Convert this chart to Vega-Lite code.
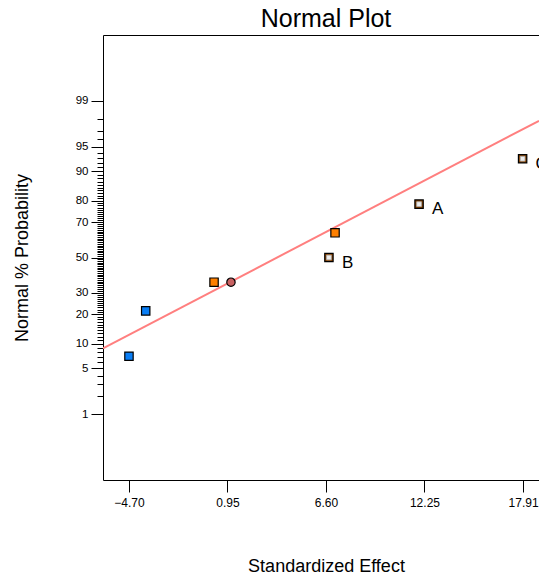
{
  "$schema": "https://vega.github.io/schema/vega-lite/v6.json",
  "width": 436,
  "height": 445,
  "autosize": {"type": "none"},
  "padding": {"left": 103, "top": 35, "right": 0, "bottom": 98},
  "background": "white",
  "config": {
    "font": "Liberation Sans",
    "view": {"stroke": null},
    "axis": {"labelFont": "Liberation Sans", "titleFont": "Liberation Sans", "labelColor": "black", "titleColor": "black", "domainColor": "black", "tickColor": "black", "grid": false, "titleFontWeight": "normal"}
  },
  "title": {"text": "Normal Plot", "fontSize": 25, "fontWeight": "normal", "font": "Liberation Sans", "anchor": "middle", "offset": 3, "dx": 5, "color": "black"},
  "datasets": {
    "effects": [
      {"effect": "e1", "x": -4.70, "z": -1.4652, "kind": "negative", "label": ""},
      {"effect": "e2", "x": -3.74, "z": -0.7916, "kind": "negative", "label": ""},
      {"effect": "e3", "x": 0.18, "z": -0.3661, "kind": "positive", "label": ""},
      {"effect": "e4", "x": 1.15, "z": -0.3661, "kind": "error", "label": ""},
      {"effect": "B", "x": 6.77, "z": 0.0, "kind": "model", "label": "B"},
      {"effect": "e5", "x": 7.12, "z": 0.3661, "kind": "positive", "label": ""},
      {"effect": "A", "x": 11.94, "z": 0.7916, "kind": "model", "label": "A"},
      {"effect": "C", "x": 17.88, "z": 1.4652, "kind": "model", "label": "C"}
    ],
    "fit": [
      {"x": -6.19, "z": -1.348},
      {"x": 18.82, "z": 2.028}
    ]
  },
  "resolve": {"axis": {"x": "independent", "y": "independent"}},
  "layer": [
    {
      "data": {"name": "fit"},
      "mark": {"type": "line", "color": "#ff7f7f", "strokeWidth": 2, "clip": true},
      "encoding": {
        "x": {"field": "x", "type": "quantitative", "scale": {"domain": [-6.19, 18.82], "nice": false, "zero": false},
          "axis": {"orient": "top", "ticks": false, "labels": false, "title": null, "domain": true, "domainColor": "black", "domainWidth": 1}},
        "y": {"field": "z", "type": "quantitative", "scale": {"domain": [-3.3, 3.3], "nice": false, "zero": false}, "axis": null}
      }
    },
    {
      "data": {"name": "effects"},
      "mark": {"type": "point", "filled": true, "stroke": "black", "strokeWidth": 1.2, "opacity": 1},
      "encoding": {
        "x": {"field": "x", "type": "quantitative",
          "axis": {"orient": "bottom", "values": [-4.70, 0.95, 6.60, 12.25, 17.91], "format": ".2f", "tickSize": 12, "labelFontSize": 12, "labelPadding": 5,
            "title": "Standardized Effect", "titleFontSize": 18, "titlePadding": 49, "titleX": 223, "labelFlush": false, "labelOverlap": false}},
        "y": {"field": "z", "type": "quantitative",
          "axis": {
            "title": "Normal % Probability", "titleFontSize": 18, "titlePadding": 44,
            "values": [-2.3263,-2.0537,-1.8808,-1.7507,-1.6449,-1.5548,-1.4758,-1.4051,-1.3408,-1.2816,-1.2265,-1.1750,-1.1264,-1.0803,-1.0364,-0.9945,-0.9542,-0.9154,-0.8779,-0.8416,-0.8064,-0.7722,-0.7388,-0.7063,-0.6745,-0.6433,-0.6128,-0.5828,-0.5534,-0.5244,-0.4959,-0.4677,-0.4399,-0.4125,-0.3853,-0.3585,-0.3319,-0.3055,-0.2793,-0.2533,-0.2275,-0.2019,-0.1764,-0.1510,-0.1257,-0.1004,-0.0753,-0.0502,-0.0251,0,0.0251,0.0502,0.0753,0.1004,0.1257,0.1510,0.1764,0.2019,0.2275,0.2533,0.2793,0.3055,0.3319,0.3585,0.3853,0.4125,0.4399,0.4677,0.4959,0.5244,0.5534,0.5828,0.6128,0.6433,0.6745,0.7063,0.7388,0.7722,0.8064,0.8416,0.8779,0.9154,0.9542,0.9945,1.0364,1.0803,1.1264,1.1750,1.2265,1.2816,1.3408,1.4051,1.4758,1.5548,1.6449,1.7507,1.8808,2.0537,2.3263],
            "labelExpr": "indexof([1,5,10,20,30,50,70,80,90,95,99], round(cumulativeNormal(datum.value, 0, 1)*100)) >= 0 ? '' + round(cumulativeNormal(datum.value, 0, 1)*100) : ''",
            "tickSize": {"condition": {"test": "indexof([1,5,10,20,30,50,70,80,90,95,99], round(cumulativeNormal(datum.value, 0, 1)*100)) >= 0", "value": 12}, "value": 6},
            "tickWidth": 1,
            "labelFontSize": 11.5, "labelPadding": 3, "labelOverlap": false, "labelBound": false, "labelFlush": false
          }},
        "shape": {"field": "kind", "type": "nominal", "scale": {"domain": ["negative", "positive", "error", "model"], "range": ["square", "square", "circle", "square"]}, "legend": null},
        "fill": {"field": "kind", "type": "nominal", "scale": {"domain": ["negative", "positive", "error", "model"], "range": ["#0a7ef5", "#ff8000", "#c86262", "#8a4300"]}, "legend": null},
        "size": {"field": "kind", "type": "nominal", "scale": {"domain": ["negative", "positive", "error", "model"], "range": [70, 70, 115, 90]}, "legend": null}
      }
    },
    {
      "data": {"name": "effects"},
      "transform": [{"filter": "datum.kind == 'model'"}],
      "mark": {"type": "square", "filled": true, "color": "#eeeeee", "stroke": "#b0b0b0", "strokeWidth": 0.8, "size": 22, "opacity": 1},
      "encoding": {
        "x": {"field": "x", "type": "quantitative", "axis": null},
        "y": {"field": "z", "type": "quantitative", "axis": null}
      }
    },
    {
      "data": {"name": "effects"},
      "mark": {"type": "text", "align": "left", "baseline": "middle", "dx": 13, "dy": 5, "fontSize": 17, "font": "Liberation Sans", "color": "black"},
      "encoding": {
        "x": {"field": "x", "type": "quantitative", "axis": null},
        "y": {"field": "z", "type": "quantitative", "axis": null},
        "text": {"field": "label"}
      }
    }
  ]
}
